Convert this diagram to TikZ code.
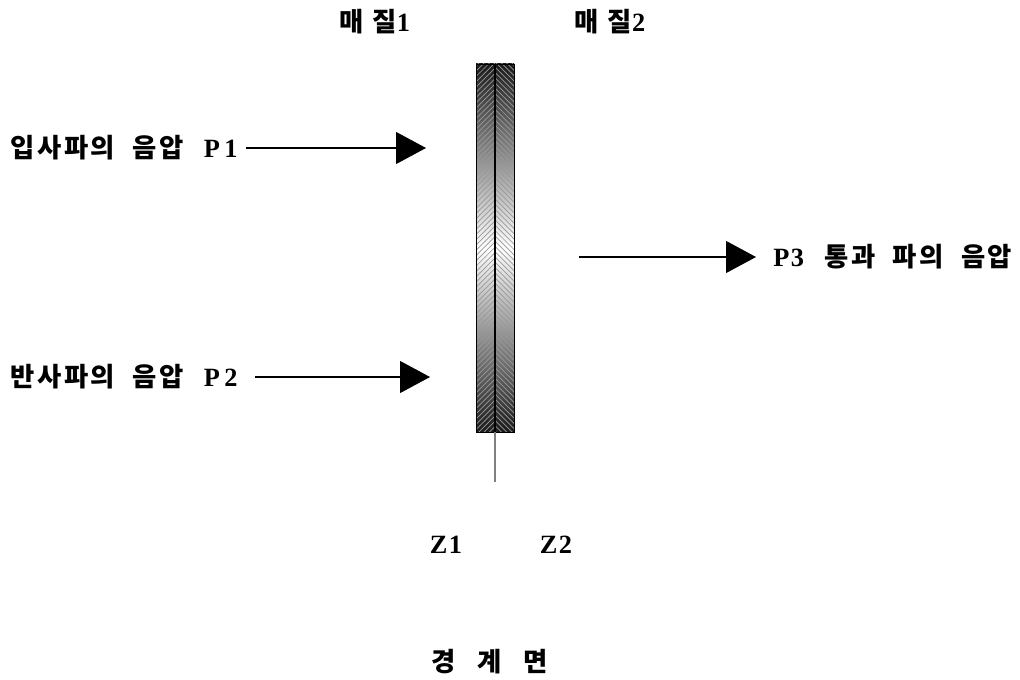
\documentclass[tikz,border=0pt]{standalone}
\usepackage{fontspec}
\setmainfont{Liberation Serif}[LetterSpace=5]
\newfontfamily\cjk{Noto Sans CJK KR}[LetterSpace=10]
\usetikzlibrary{arrows.meta,patterns,positioning}

\begin{document}
\begin{tikzpicture}[x=0.02cm,y=-0.02cm]
	\tikzstyle{every node} = [inner sep=0pt, font=\fontsize{15}{17}\selectfont\bfseries]
	\tikzstyle{wave} = [draw, semithick, -{Triangle[length=0.6cm,width=0.64cm]}]
	\tikzstyle{label} = [anchor=west]
	\useasboundingbox (0,0) rectangle (1020,679);
	% boundary slab
	\coordinate (S1) at (476,64);
	\coordinate (S2) at (514,432);
	\shade[top color=black!90, bottom color=black!90, middle color=white] (S1) rectangle (S2);
	\fill[pattern=north east lines, pattern color=black!40] (476,64) rectangle (495,432);
	\fill[pattern=north west lines, pattern color=black!40] (495,64) rectangle (514,432);
	\draw[thin] (S1) rectangle (S2);
	\draw[semithick] (495,64) -- (495,432);
	\coordinate (T) at (495,482);
	\draw[gray, line width=1.1pt] (495,432) -- (T);
	% labels
	\node (m1) at (375,22) {{\cjk 매 질}1};
	\node (m2) at (610,22) {{\cjk 매 질}2};
	\node[label] (p1) at (10,148) {{\cjk 입사파의\ \ 음압}\ \ \,P\,1};
	\node[label] (p2) at (10,377) {{\cjk 반사파의\ \ 음압}\ \ \,P\,2};
	\node[label] (p3) at (773,257) {P3\ \ \,{\cjk 통과\ \ 파의\ \ 음압}};
	\node (z1) at (446,545) {Z1};
	\node (z2) at (556,545) {Z2};
	\node (bd) at (490,662) {\cjk 경\ \ \,계\ \ \,면};
	% waves
	\coordinate (b1) at (246,148);
	\coordinate (a1) at (426,148);
	\coordinate (b2) at (255,377);
	\coordinate (a2) at (430,377);
	\coordinate (b3) at (579,257);
	\coordinate (a3) at (756,257);
	\draw[wave] (b1) -- (a1);
	\draw[wave] (b2) -- (a2);
	\draw[wave] (b3) -- (a3);
\end{tikzpicture}
\end{document}
